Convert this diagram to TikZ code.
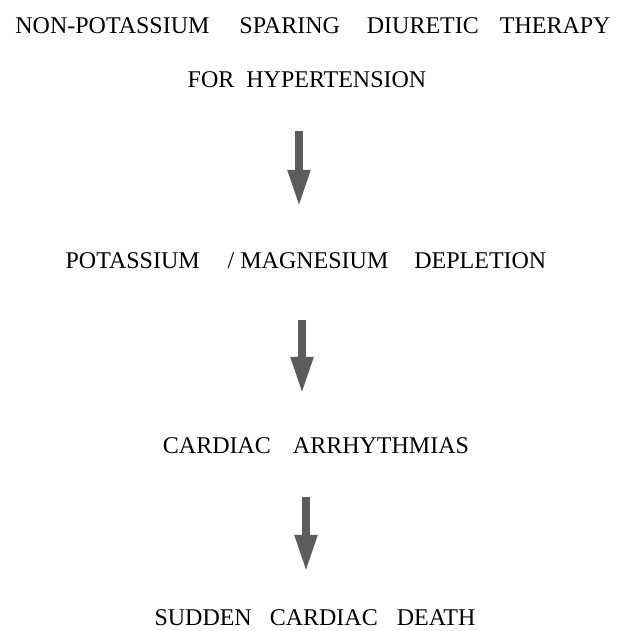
\documentclass[tikz,border=0pt]{standalone}
\usepackage{fontspec}
\setmainfont{Liberation Serif}
\usetikzlibrary{arrows.meta,positioning}

\begin{document}
\begin{tikzpicture}[
    x=1pt, y=-1pt,
    stage/.style={inner sep=0pt, text height=16pt, text depth=0pt, font=\fontsize{24}{28}\selectfont},
    fatarrow/.style={line width=8pt, draw=black!64, -{Triangle[length=37pt, width=21pt, fill=black!64]}}
]
    \useasboundingbox (0,0) rectangle (625,631);

    \node (therapy) [stage] at (313,26) {NON-POTASSIUM\hspace{30pt}SPARING\hspace{27pt}DIURETIC\hspace{21pt}THERAPY};
    \node (hypert) [stage] at (307,80) {FOR\hspace{12pt}HYPERTENSION};
    \node (depletion) [stage] at (306,260) {POTASSIUM\hspace{28pt}/\hspace{6pt}MAGNESIUM\hspace{26pt}DEPLETION};
    \node (arrhythm) [stage] at (316,445) {CARDIAC\hspace{22pt}ARRHYTHMIAS};
    \node (death) [stage] at (315,617) {SUDDEN\hspace{18pt}CARDIAC\hspace{19pt}DEATH};

    % arrow columns
    \coordinate (col1) at (299,0);
    \coordinate (col2) at (302,0);
    \coordinate (col3) at (306,0);

    \draw [fatarrow, shorten <=43pt, shorten >=45pt] (hypert.south -| col1) -- (depletion.north -| col1);
    \draw [fatarrow, shorten <=52pt, shorten >=43pt] (depletion.south -| col2) -- (arrhythm.north -| col2);
    \draw [fatarrow, shorten <=44pt, shorten >=37pt] (arrhythm.south -| col3) -- (death.north -| col3);
\end{tikzpicture}
\end{document}
